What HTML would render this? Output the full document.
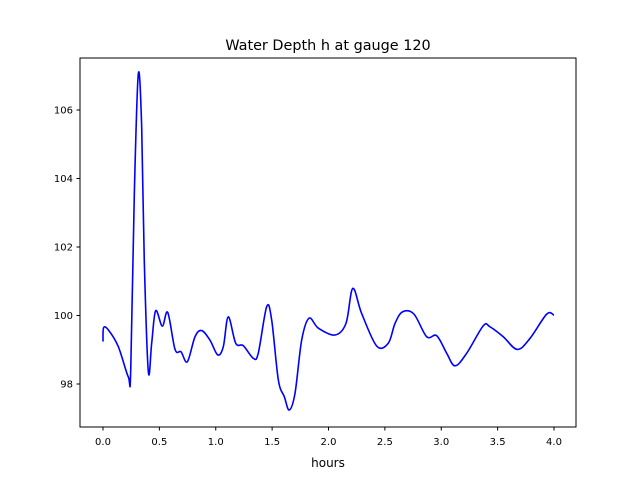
<!DOCTYPE html>
<html><head><meta charset="utf-8"><style>
body{margin:0;background:#fff;font-family:"Liberation Sans","DejaVu Sans",sans-serif}
</style></head><body>
<svg id="chart" width="640" height="480" xmlns="http://www.w3.org/2000/svg" font-family="DejaVu Sans, Liberation Sans, sans-serif">
<rect width="640" height="480" fill="#fff"/>
<text x="328" y="50" font-size="14.4" text-anchor="middle">Water Depth h at gauge 120</text>
<g id="plot"></g>
<rect x="80" y="58" width="496" height="369" fill="none" stroke="#000" stroke-width="1"/>
<text x="328" y="467" font-size="12" text-anchor="middle">hours</text>
</svg>
<script>
const times=[0,0.005,0.047,0.136,0.224,0.246,0.278,0.313,0.343,0.366,0.402,0.432,0.467,0.526,0.574,0.639,0.692,0.748,0.816,0.875,0.949,1.017,1.067,1.111,1.177,1.244,1.333,1.377,1.452,1.496,1.555,1.608,1.652,1.703,1.762,1.827,1.910,2.058,2.155,2.215,2.294,2.427,2.530,2.590,2.658,2.758,2.871,2.960,3.048,3.122,3.226,3.373,3.432,3.550,3.674,3.787,3.935,4.0];
const depth=[99.24,99.64,99.58,99.09,98.21,98.41,103.58,107.05,105.51,101.62,98.36,99.20,100.14,99.69,100.09,99.01,98.94,98.65,99.38,99.56,99.28,98.85,99.09,99.96,99.19,99.12,98.75,98.90,100.26,99.87,98.12,97.63,97.24,97.73,99.28,99.92,99.63,99.43,99.77,100.79,100.06,99.11,99.19,99.77,100.11,100.04,99.38,99.41,98.90,98.53,98.90,99.70,99.67,99.38,99.01,99.33,100.04,100.01];
const xTicks=[0,0.5,1,1.5,2,2.5,3,3.5,4];
const xTickLabels=["0.0","0.5","1.0","1.5","2.0","2.5","3.0","3.5","4.0"];
const yTicks=[98,100,102,104,106];
const yTickLabels=["98","100","102","104","106"];
const X=t=>103+t*112.75;
const Y=h=>315.5-(h-100)*34.25;
const NS="http://www.w3.org/2000/svg";
const svg=document.getElementById('chart');
const g=document.getElementById('plot');
function mk(tag,attrs,parent){const e=document.createElementNS(NS,tag);for(const k in attrs)e.setAttribute(k,attrs[k]);(parent||svg).appendChild(e);return e;}
const pts=times.map((t,i)=>[X(t),Y(depth[i])]);
let d=`M${pts[0][0]},${pts[0][1]}`;
for(let i=0;i<pts.length-1;i++){
 const p0=pts[Math.max(0,i-1)],p1=pts[i],p2=pts[i+1],p3=pts[Math.min(pts.length-1,i+2)];
 const c1=[p1[0]+(p2[0]-p0[0])/6,p1[1]+(p2[1]-p0[1])/6];
 const c2=[p2[0]-(p3[0]-p1[0])/6,p2[1]-(p3[1]-p1[1])/6];
 d+=` C${c1[0]},${c1[1]} ${c2[0]},${c2[1]} ${p2[0]},${p2[1]}`;
}
const line=mk('path',{d:d,fill:'none',stroke:'#0000ff','stroke-width':1.6,'stroke-linejoin':'round'},g);


xTicks.forEach((t,i)=>{
 const tk=mk('line',{x1:X(t),x2:X(t),y1:427,y2:430.5,stroke:'#000'});
 
 
 const tx=mk('text',{x:X(t),y:445,'font-size':10,'text-anchor':'middle'});
 tx.textContent=xTickLabels[i];
 
 
});
yTicks.forEach((v,i)=>{
 const tk=mk('line',{x1:76.5,x2:80,y1:Y(v),y2:Y(v),stroke:'#000'});
 
 
 const tx=mk('text',{x:73,y:Y(v)+3.5,'font-size':10,'text-anchor':'end'});
 tx.textContent=yTickLabels[i];
 
 
});
</script>
</body></html>
